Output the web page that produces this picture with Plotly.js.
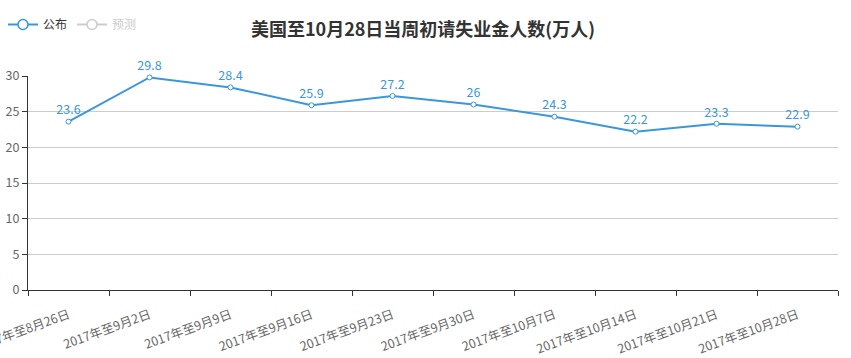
<!DOCTYPE html>
<html>
<head>
<meta charset="utf-8">
<script src="https://cdn.plot.ly/plotly-3.0.1.min.js"></script>
<style>html,body{margin:0;padding:0;background:#fff;}#chart{width:851px;height:358px;}</style>
</head>
<body>
<div id="chart"></div>
<script>
const categories = ["2017年至8月26日","2017年至9月2日","2017年至9月9日","2017年至9月16日","2017年至9月23日","2017年至9月30日","2017年至10月7日","2017年至10月14日","2017年至10月21日","2017年至10月28日"];
const publishedValues = [23.6, 29.8, 28.4, 25.9, 27.2, 26, 24.3, 22.2, 23.3, 22.9];
const forecastValues = [null, null, null, null, null, null, null, null, null, null];
const yTicks = [0, 5, 10, 15, 20, 25, 30];

const FONT = '"Noto Sans CJK SC", "Microsoft YaHei", sans-serif';
const blue = '#3a97dc';
const noData = categories.map(() => null);

const traces = [
  {
    type: 'scatter', mode: 'lines+markers+text', name: '公布', showlegend: false,
    x: categories, y: publishedValues,
    text: publishedValues.map(String), textposition: 'top center',
    textfont: {color: blue, size: 12.5, family: FONT},
    line: {color: blue, width: 2},
    marker: {symbol: 'circle', size: 5, color: '#fff', line: {color: blue, width: 1}},
    cliponaxis: false, hoverinfo: 'x+y'
  },
  {
    type: 'scatter', mode: 'lines+markers', name: '公布', showlegend: true,
    x: categories, y: noData,
    line: {color: blue, width: 2},
    marker: {symbol: 'circle', size: 10, color: '#fff', line: {color: blue, width: 1.5}}
  },
  {
    type: 'scatter', mode: 'lines+markers', name: '<span style="color:#ccc">预测</span>',
    x: categories, y: forecastValues,
    line: {color: '#ccc', width: 2},
    marker: {symbol: 'circle', size: 10, color: '#fff', line: {color: '#ccc', width: 1.5}}
  }
];

const layout = {
  width: 851, height: 358,
  margin: {l: 28, r: 13, t: 76, b: 68},
  paper_bgcolor: '#fff', plot_bgcolor: '#fff',
  font: {family: FONT, size: 12, color: '#333'},
  title: {text: '<b>美国至10月28日当周初请失业金人数(万人)</b>', font: {size: 18, color: '#333', family: FONT},
          x: 0.497, xanchor: 'center', y: 1 - 30/358, yanchor: 'middle', yref: 'container'},
  showlegend: true,
  legend: {orientation: 'h', x: 3/851, xref: 'container', xanchor: 'left', y: 1 - 10/358, yanchor: 'top', yref: 'container',
           font: {size: 12, color: '#333', family: FONT}, itemwidth: 30, tracegroupgap: 0, bgcolor: 'rgba(0,0,0,0)'},
  xaxis: {
    type: 'category', tickson: 'boundaries', ticks: 'outside', ticklen: 5, tickcolor: '#333', tickwidth: 1,
    showline: true, linecolor: '#333', linewidth: 1, showgrid: false, zeroline: false,
    tickangle: -20, ticklabelstandoff: 12, tickfont: {size: 12.5, color: '#666', family: FONT}, automargin: false,
    range: [-0.5, categories.length - 0.5]
  },
  yaxis: {
    range: [0, 30], tickvals: yTicks, ticktext: yTicks.map(String),
    ticks: 'outside', ticklen: 5, tickcolor: '#333', showline: true, linecolor: '#333', linewidth: 1,
    showgrid: true, gridcolor: '#ccc', gridwidth: 1, zeroline: false,
    tickfont: {size: 12.5, color: '#666', family: FONT}, automargin: false
  }
};

Plotly.newPlot('chart', traces, layout, {displayModeBar: false, staticPlot: true});
</script>
</body>
</html>
